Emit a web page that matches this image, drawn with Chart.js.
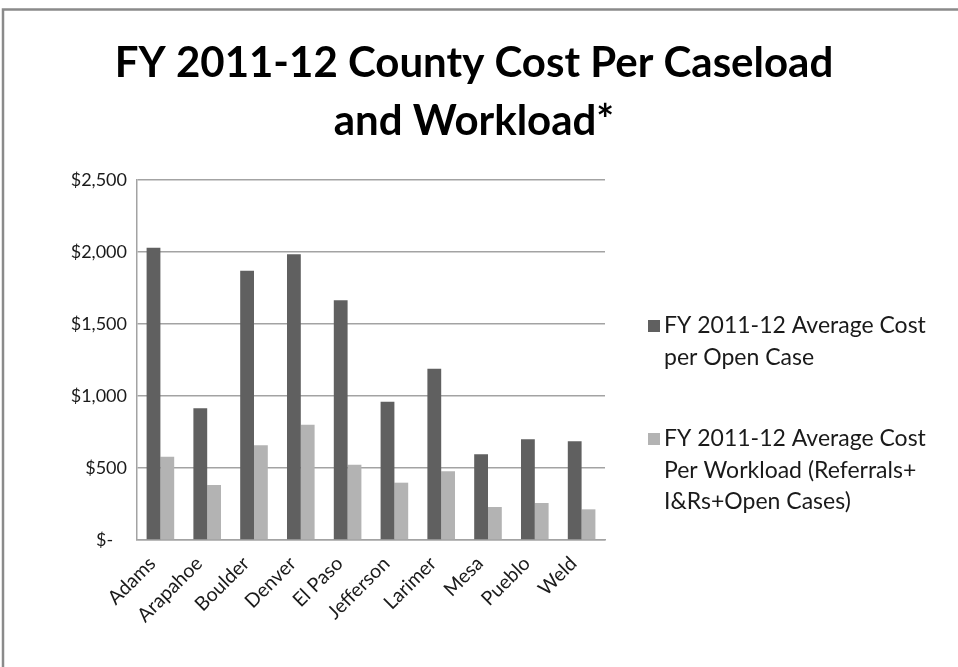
<!DOCTYPE html>
<html>
<head>
<meta charset="utf-8">
<script src="https://cdn.jsdelivr.net/npm/chart.js@4.4.1/dist/chart.umd.min.js"></script>
<style>
  html, body { margin: 0; padding: 0; background: #fff; }
  #wrap { width: 958px; height: 667px; }
</style>
</head>
<body>
<div id="wrap"><canvas id="chart" width="958" height="667"></canvas></div>
<script>
// ── DATA ─────────────────────────────────────────────────────
const counties = ['Adams', 'Arapahoe', 'Boulder', 'Denver', 'El Paso',
                  'Jefferson', 'Larimer', 'Mesa', 'Pueblo', 'Weld'];
const costPerOpenCase = [2030, 915, 1870, 1985, 1665, 960, 1190, 595, 700, 685];
const costPerWorkload = [578, 382, 658, 800, 523, 398, 477, 229, 257, 213];
const titleLines = ['FY 2011-12 County Cost Per Caseload', 'and Workload*'];
const openCaseLabel = ['FY 2011-12 Average Cost', 'per Open Case'];
const workloadLabel = ['FY 2011-12 Average Cost', 'Per Workload (Referrals+', 'I&Rs+Open Cases)'];
const yMax = 2500;
const yStep = 500;

const FONT = 'Lato, "Open Sans", sans-serif';
const DARK = '#606060';
const LIGHT = '#b3b3b3';
const GRID = '#a3a3a3';

// ── FORMAT ───────────────────────────────────────────────────
function formatDollar(v) {
  if (v === 0) return '$-   ';
  return '$' + v.toLocaleString('en-US');
}

// ── TITLE, LEGEND AND FRAME ──────────────────────────────────
const decorPlugin = {
  id: 'decor',
  afterDraw(chart) {
    const ctx = chart.ctx;
    ctx.save();

    // outer frame (only top and left edges fall inside the canvas)
    ctx.strokeStyle = '#8a8a8a';
    ctx.lineWidth = 2.5;
    ctx.strokeRect(3, 9.5, 1000, 700);

    // title
    ctx.fillStyle = '#000';
    ctx.textAlign = 'center';
    ctx.textBaseline = 'middle';
    ctx.font = 'bold 42px ' + FONT;
    titleLines.forEach((t, i) => ctx.fillText(t, 474, 63 + i * 58));

    // legend
    ctx.textAlign = 'left';
    ctx.font = '23px ' + FONT;
    const lineH = 31.5;
    let y = 326;
    chart.data.datasets.forEach(ds => {
      ctx.fillStyle = ds.backgroundColor;
      ctx.fillRect(648, y - 6, 12, 12);
      ctx.fillStyle = '#1a1a1a';
      ds.label.forEach((line, i) => ctx.fillText(line, 664, y + i * lineH));
      y += ds.label.length * lineH + 50;
    });

    ctx.restore();
  }
};

// ── CHART ────────────────────────────────────────────────────
new Chart(document.getElementById('chart'), {
  type: 'bar',
  data: {
    labels: counties,
    datasets: [
      { label: openCaseLabel, data: costPerOpenCase, backgroundColor: DARK },
      { label: workloadLabel, data: costPerWorkload, backgroundColor: LIGHT }
    ]
  },
  options: {
    responsive: false,
    animation: false,
    devicePixelRatio: 1,
    layout: { padding: { top: 180, left: 5, right: 353, bottom: 0 } },
    datasets: { bar: { categoryPercentage: 0.59, barPercentage: 1.0 } },
    plugins: {
      legend: { display: false },
      title: { display: false },
      tooltip: { enabled: false }
    },
    scales: {
      x: {
        grid: { display: false },
        border: { display: true, color: GRID, width: 1.5 },
        ticks: {
          color: '#1a1a1a',
          font: { family: FONT, size: 19.5 },
          maxRotation: 45, minRotation: 45,
          labelOffset: -8,
          padding: 4
        },
        afterFit: s => { s.height = 127; }
      },
      y: {
        min: 0, max: yMax,
        grid: { color: GRID, lineWidth: 1.5, drawTicks: false },
        border: { display: true, color: GRID, width: 1.5 },
        ticks: {
          stepSize: yStep,
          color: '#1a1a1a',
          padding: 10,
          font: { family: FONT, size: 18 },
          callback: v => formatDollar(v)
        },
        afterFit: s => { s.width = 132; }
      }
    }
  },
  plugins: [decorPlugin]
});
</script>
</body>
</html>
